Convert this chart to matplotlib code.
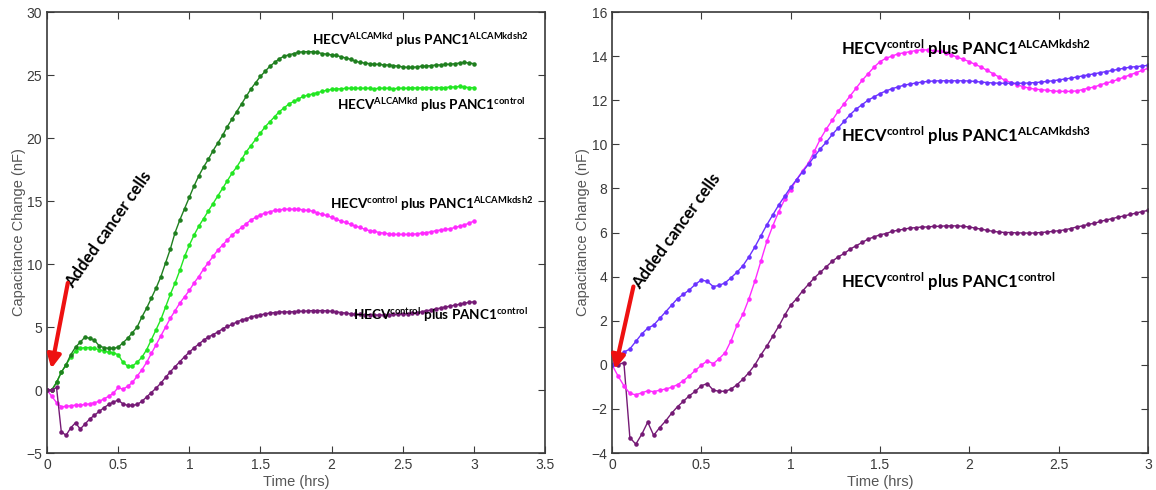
import numpy as np
import matplotlib.pyplot as plt

# fontes
plt.rcParams['font.family'] = ['Liberation Sans', 'DejaVu Sans']
plt.rcParams['mathtext.fontset'] = 'custom'
plt.rcParams['mathtext.rm'] = 'Lato:bold'
plt.rcParams['mathtext.it'] = 'Lato:bold'
plt.rcParams['mathtext.bf'] = 'Lato:bold'

# time axis: one reading every 2 minutes, 0 to 3 hrs
time_hrs = np.arange(91) / 30

# left panel
left_alcamkd_kdsh2 = [
    0.0, 0.0, 0.6, 1.4, 2.0, 2.8, 3.4, 3.8, 4.2, 4.1,
    3.95, 3.5, 3.37, 3.3, 3.3, 3.4, 3.75, 4.1, 4.55, 5.0,
    5.8, 6.5, 7.3, 8.1, 9.0, 10.1, 11.2, 12.5, 13.5, 14.4,
    15.3, 16.2, 17.0, 17.7, 18.3, 19.0, 19.6, 20.2, 20.9, 21.5,
    22.1, 22.7, 23.3, 23.9, 24.4, 24.9, 25.3, 25.7, 26.0, 26.3,
    26.5, 26.6, 26.7, 26.8, 26.85, 26.85, 26.85, 26.8, 26.7, 26.65,
    26.6, 26.55, 26.45, 26.35, 26.25, 26.1, 26.0, 25.95, 25.9, 25.85,
    25.85, 25.8, 25.8, 25.75, 25.7, 25.65, 25.6, 25.6, 25.65, 25.7,
    25.7, 25.75, 25.8, 25.8, 25.85, 25.85, 25.9, 25.95, 26.0, 25.95,
    25.9]

left_alcamkd_control = [
    0.0, 0.0, 0.6, 1.4, 2.0, 2.6, 3.1, 3.3, 3.37, 3.37,
    3.3, 3.2, 3.1, 3.0, 2.95, 2.8, 2.2, 1.9, 1.9, 2.2,
    2.6, 3.2, 4.0, 4.8, 5.6, 6.6, 7.6, 8.5, 9.5, 10.6,
    11.5, 12.3, 13.0, 13.6, 14.2, 14.8, 15.4, 16.0, 16.6, 17.2,
    17.7, 18.3, 18.9, 19.4, 19.9, 20.4, 20.9, 21.3, 21.7, 22.1,
    22.4, 22.7, 22.9, 23.1, 23.3, 23.4, 23.5, 23.6, 23.7, 23.8,
    23.85, 23.9, 23.9, 23.95, 23.95, 23.95, 23.95, 23.95, 23.95, 23.9,
    23.95, 23.95, 23.95, 23.9, 23.95, 23.95, 23.95, 24.0, 23.95, 24.0,
    24.0, 24.0, 24.0, 24.0, 24.0, 24.05, 24.05, 24.1, 24.05, 24.0,
    24.0]

left_control_kdsh2 = [
    0.0, -0.5, -1.0, -1.33, -1.3, -1.25, -1.2, -1.2, -1.15, -1.1,
    -1.0, -0.9, -0.7, -0.5, -0.25, 0.2, 0.05, 0.3, 0.6, 1.1,
    1.6, 2.2, 2.9, 3.6, 4.3, 5.0, 5.7, 6.3, 6.9, 7.4,
    7.9, 8.5, 9.0, 9.6, 10.1, 10.6, 11.1, 11.5, 11.9, 12.3,
    12.6, 12.9, 13.2, 13.5, 13.7, 13.9, 14.05, 14.15, 14.25, 14.3,
    14.35, 14.35, 14.35, 14.35, 14.3, 14.25, 14.2, 14.05, 13.95, 13.85,
    13.7, 13.55, 13.4, 13.3, 13.15, 13.0, 12.9, 12.75, 12.65, 12.6,
    12.5, 12.45, 12.4, 12.35, 12.35, 12.35, 12.35, 12.35, 12.4, 12.45,
    12.5, 12.55, 12.65, 12.7, 12.75, 12.8, 12.9, 13.0, 13.1, 13.25,
    13.4]

left_control_control = [
    0.0, 0.0, 0.2, -3.3, -3.6, -3.0, -2.6, -3.1, -2.7, -2.3,
    -2.0, -1.7, -1.4, -1.15, -0.95, -0.8, -1.1, -1.22, -1.22, -1.15,
    -0.9, -0.55, -0.2, 0.15, 0.55, 1.0, 1.45, 1.85, 2.25, 2.65,
    3.0, 3.35, 3.65, 3.95, 4.2, 4.4, 4.6, 4.85, 5.05, 5.2,
    5.4, 5.55, 5.65, 5.8, 5.9, 5.95, 6.05, 6.1, 6.15, 6.2,
    6.2, 6.2, 6.22, 6.25, 6.25, 6.28, 6.3, 6.3, 6.3, 6.28,
    6.25, 6.2, 6.15, 6.1, 6.05, 6.0, 6.0, 5.97, 5.95, 5.95,
    5.95, 5.95, 5.97, 6.0, 6.0, 6.02, 6.05, 6.1, 6.15, 6.2,
    6.3, 6.35, 6.45, 6.5, 6.6, 6.65, 6.75, 6.8, 6.9, 6.95,
    7.0]

# right panel
right_control_kdsh2 = [
    0.0, -0.5, -0.95, -1.3, -1.36, -1.27, -1.18, -1.22, -1.15, -1.1,
    -1.02, -0.9, -0.72, -0.5, -0.25, -0.02, 0.18, 0.05, 0.28, 0.55,
    1.1, 1.8, 2.3, 3.0, 3.8, 4.7, 5.6, 6.3, 6.95, 7.5,
    7.95, 8.4, 8.8, 9.15, 9.7, 10.25, 10.7, 11.1, 11.5, 11.85,
    12.2, 12.55, 12.9, 13.2, 13.5, 13.75, 13.9, 14.0, 14.1, 14.15,
    14.2, 14.25, 14.28, 14.28, 14.25, 14.22, 14.15, 14.05, 13.95, 13.85,
    13.75, 13.62, 13.5, 13.35, 13.2, 13.05, 12.9, 12.8, 12.7, 12.62,
    12.55, 12.5, 12.48, 12.45, 12.42, 12.4, 12.4, 12.4, 12.42, 12.48,
    12.55, 12.6, 12.7, 12.78, 12.85, 12.95, 13.05, 13.15, 13.25, 13.35,
    13.45]

right_control_kdsh3 = [
    0.0, 0.3, 0.57, 0.72, 1.06, 1.4, 1.66, 1.8, 2.1, 2.4,
    2.7, 3.0, 3.2, 3.4, 3.65, 3.85, 3.78, 3.55, 3.6, 3.72,
    3.95, 4.2, 4.5, 4.9, 5.35, 5.85, 6.35, 6.8, 7.25, 7.65,
    8.05, 8.4, 8.75, 9.1, 9.45, 9.8, 10.1, 10.45, 10.75, 11.05,
    11.35, 11.6, 11.8, 12.0, 12.15, 12.3, 12.42, 12.52, 12.6, 12.68,
    12.73, 12.78, 12.82, 12.85, 12.87, 12.88, 12.88, 12.88, 12.88, 12.88,
    12.87, 12.85, 12.82, 12.8, 12.78, 12.77, 12.77, 12.77, 12.77, 12.77,
    12.78, 12.8, 12.82, 12.85, 12.88, 12.92, 12.96, 13.0, 13.05, 13.1,
    13.15, 13.2, 13.25, 13.3, 13.35, 13.4, 13.45, 13.5, 13.52, 13.55,
    13.58]

right_control_control = [
    0.0, 0.0, 0.1, -3.3, -3.6, -3.15, -2.6, -3.2, -2.85, -2.55,
    -2.2, -1.9, -1.65, -1.4, -1.2, -0.95, -0.85, -1.15, -1.2, -1.2,
    -1.1, -0.9, -0.65, -0.35, 0.0, 0.45, 0.85, 1.3, 1.75, 2.25,
    2.7, 3.0, 3.35, 3.65, 3.95, 4.2, 4.45, 4.7, 4.9, 5.05,
    5.25, 5.4, 5.55, 5.7, 5.8, 5.9, 5.95, 6.05, 6.1, 6.15,
    6.2, 6.22, 6.25, 6.25, 6.28, 6.28, 6.3, 6.3, 6.3, 6.28,
    6.25, 6.2, 6.15, 6.1, 6.05, 6.02, 6.0, 6.0, 5.98, 5.98,
    5.97, 5.98, 6.0, 6.02, 6.05, 6.08, 6.12, 6.18, 6.25, 6.3,
    6.37, 6.42, 6.5, 6.57, 6.63, 6.7, 6.75, 6.82, 6.88, 6.95,
    7.0]

# cores
dark_green = '#1f7f1f'
light_green = '#22e622'
magenta = '#ff2bff'
purple = '#751a75'
violet = '#6a32ff'

fig = plt.figure(figsize=(11.56, 4.9), dpi=100)
ax1 = fig.add_axes([0.0407, 0.0755, 0.4308, 0.900])
ax2 = fig.add_axes([0.5294, 0.0755, 0.4637, 0.900])


def draw(ax, y, color):
    ax.plot(time_hrs, y, color=color, lw=1, marker='.', ms=4.5)


def style(ax):
    ax.tick_params(direction='in', top=True, right=True, labelsize=10,
                   colors='#3a3a3a', length=5)
    for s in ax.spines.values():
        s.set_color('#3a3a3a')
        s.set_linewidth(1.2)
    ax.set_xlabel('Time (hrs)', fontsize=10.5, color='#555555', labelpad=2)
    ax.set_ylabel('Capacitance Change (nF)', fontsize=10.5, color='#555555',
                  labelpad=0.5)


def label(ax, x, y, s, size):
    ax.text(x, y, s, fontsize=size, family='Lato', fontweight='bold',
            color='black')


# painel esquerdo
draw(ax1, left_alcamkd_control, light_green)
draw(ax1, left_alcamkd_kdsh2, dark_green)
draw(ax1, left_control_kdsh2, magenta)
draw(ax1, left_control_control, purple)
ax1.set_xlim(0, 3.5)
ax1.set_ylim(-5, 30)
ax1.set_xticks([0, 0.5, 1, 1.5, 2, 2.5, 3, 3.5])
ax1.set_xticklabels(['0', '0.5', '1', '1.5', '2', '2.5', '3', '3.5'])
style(ax1)

label(ax1, 1.86, 27.4, r'HECV$^{\mathrm{ALCAMkd}}$ plus PANC1$^{\mathrm{ALCAMkdsh2}}$', 9.7)
label(ax1, 2.04, 22.2, r'HECV$^{\mathrm{ALCAMkd}}$ plus PANC1$^{\mathrm{control}}$', 9.7)
label(ax1, 1.99, 14.4, r'HECV$^{\mathrm{control}}$ plus PANC1$^{\mathrm{ALCAMkdsh2}}$', 9.7)
label(ax1, 2.15, 5.55, r'HECV$^{\mathrm{control}}$ plus PANC1$^{\mathrm{control}}$', 9.7)

ax1.text(0.18, 8.0, 'Added cancer cells', rotation=55, rotation_mode='anchor',
         ha='left', va='baseline', fontsize=12, family='Lato', fontweight='bold')
ax1.annotate('', xy=(0.03, 1.7), xytext=(0.146, 8.5),
             arrowprops=dict(arrowstyle='-|>', color='#ee1111', lw=3,
                             mutation_scale=20, shrinkA=0, shrinkB=0))

# painel direito
draw(ax2, right_control_control, purple)
draw(ax2, right_control_kdsh2, magenta)
draw(ax2, right_control_kdsh3, violet)
ax2.set_xlim(0, 3)
ax2.set_ylim(-4, 16)
ax2.set_xticks([0, 0.5, 1, 1.5, 2, 2.5, 3])
ax2.set_xticklabels(['0', '0.5', '1', '1.5', '2', '2.5', '3'])
ax2.set_yticks(range(-4, 17, 2))
style(ax2)

label(ax2, 1.28, 14.05, r'HECV$^{\mathrm{control}}$ plus PANC1$^{\mathrm{ALCAMkdsh2}}$', 12)
label(ax2, 1.28, 10.12, r'HECV$^{\mathrm{control}}$ plus PANC1$^{\mathrm{ALCAMkdsh3}}$', 12)
label(ax2, 1.28, 3.48, r'HECV$^{\mathrm{control}}$ plus PANC1$^{\mathrm{control}}$', 12)

ax2.text(0.16, 3.4, 'Added cancer cells', rotation=54, rotation_mode='anchor',
         ha='left', va='baseline', fontsize=12, family='Lato', fontweight='bold')
ax2.annotate('', xy=(0.017, -0.2), xytext=(0.12, 3.55),
             arrowprops=dict(arrowstyle='-|>', color='#ee1111', lw=3,
                             mutation_scale=20, shrinkA=0, shrinkB=0))

fig.savefig('out.png', dpi=100)
